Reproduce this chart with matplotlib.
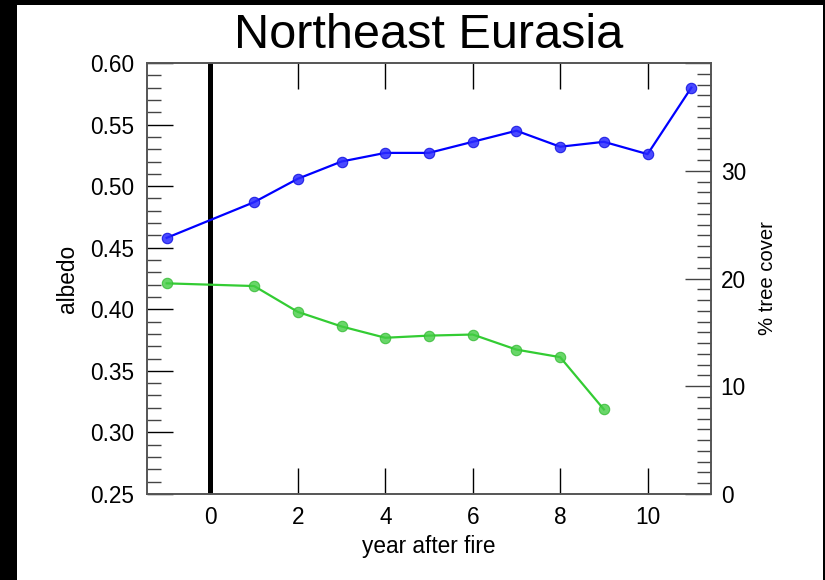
import numpy as np
import matplotlib
matplotlib.use("Agg")
import matplotlib.pyplot as plt
from matplotlib.patches import Rectangle
from matplotlib.ticker import MultipleLocator

plt.rcParams["font.family"] = ["Liberation Sans", "DejaVu Sans"]

# years relative to the fire (no sample at year 0)
years_albedo = [-1, 1, 2, 3, 4, 5, 6, 7, 8, 9, 10, 11]
albedo = [0.458, 0.487, 0.506, 0.520, 0.527, 0.527, 0.536, 0.545, 0.532, 0.536, 0.526, 0.580]

years_tree = [-1, 1, 2, 3, 4, 5, 6, 7, 8, 9]
tree_cover = [19.55, 19.3, 16.9, 15.55, 14.5, 14.7, 14.8, 13.4, 12.7, 7.85]

BLUE = "#0000ff"
GREEN = "#33cc33"
SPINE = "#555555"
FS = 16.3

fig = plt.figure(figsize=(8.25, 5.8), dpi=100, facecolor="black")
fig.patches.append(Rectangle((17 / 825, 0), (823 - 17) / 825, 1 - 5 / 580,
                             transform=fig.transFigure, facecolor="white",
                             edgecolor="none", zorder=-5))

ax = fig.add_axes([147 / 825, 1 - 494 / 580, (711 - 147) / 825, (494 - 63) / 580])
ax.set_facecolor("white")
ax2 = ax.twinx()

ax.axvline(0, color="black", lw=3.6, zorder=1)

ax.plot(years_albedo, albedo, color=BLUE, lw=1.6, zorder=3)
ax.plot(years_albedo, albedo, ls="none", marker="o", ms=7.5, mfc="#2a2aff",
        mec="#1010e0", mew=0.8, alpha=0.85, zorder=4)

ax2.plot(years_tree, tree_cover, color=GREEN, lw=1.6, zorder=3)
ax2.plot(years_tree, tree_cover, ls="none", marker="o", ms=7.5, mfc="#44cc44",
         mec="#33bb33", mew=0.8, alpha=0.8, zorder=4)

ax.set_xlim(-1.45, 11.45)
ax.set_ylim(0.25, 0.60)
ax2.set_ylim(0, 40)

ax.set_xticks([0, 2, 4, 6, 8, 10])
ax.yaxis.set_major_locator(MultipleLocator(0.05))
ax.yaxis.set_minor_locator(MultipleLocator(0.01))
ax.yaxis.set_major_formatter(lambda v, pos: f"{v:.2f}")
ax2.yaxis.set_major_locator(MultipleLocator(10))
ax2.yaxis.set_minor_locator(MultipleLocator(1))
# top of the cover scale is left unlabelled
ax2.yaxis.set_major_formatter(lambda v, pos: "" if v >= 40 else f"{v:.0f}")

ax.tick_params(axis="x", which="major", direction="in", length=19, width=1,
               color="black", top=True, labelsize=FS, pad=9)
ax.tick_params(axis="y", which="major", direction="in", length=19, width=1,
               color="black", labelsize=FS, pad=9)
ax.tick_params(axis="y", which="minor", direction="in", length=10, width=1,
               color="#444444")
ax2.tick_params(axis="y", which="major", direction="in", length=19, width=1,
                color="#444444", labelsize=FS, pad=7)
ax2.tick_params(axis="y", which="minor", direction="in", length=10, width=1,
                color="#444444")

for a in (ax, ax2):
    for s in a.spines.values():
        s.set_color(SPINE)
        s.set_linewidth(1.2)

ax.set_xlabel("year after fire", fontsize=FS, labelpad=4)
ax.set_ylabel("albedo", fontsize=FS, labelpad=8)
ax2.set_ylabel("% tree cover", fontsize=14.6, labelpad=9)
ax.set_title("Northeast Eurasia", fontsize=35, pad=11)

fig.savefig("out.png", dpi=100, facecolor=fig.get_facecolor())
